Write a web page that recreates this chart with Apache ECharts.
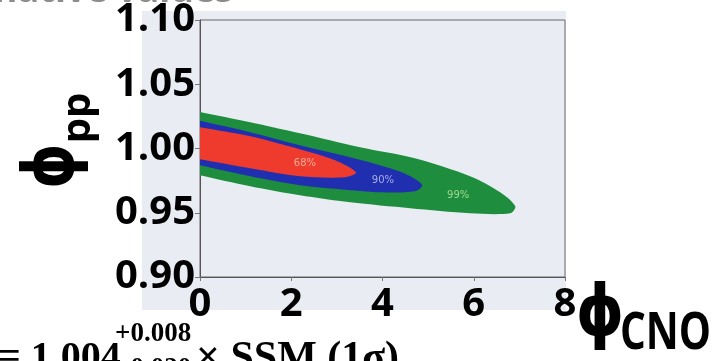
<!DOCTYPE html>
<html>
<head>
<meta charset="utf-8">
<script src="https://cdn.jsdelivr.net/npm/echarts@6/dist/echarts.min.js"></script>
<style>
html,body{margin:0;padding:0;background:#fff;}
#c{width:724px;height:361px;}
</style>
</head>
<body>
<div id="c"></div>
<script>
// ---- data ----
const xTickLabels = ['0', '2', '4', '6', '8'];
const yTickLabels = ['0.90', '0.95', '1.00', '1.05', '1.10'];

// contour boundaries [phi_CNO, phi_pp], traced clockwise; the regions are cut by the phi_CNO = 0 axis
const contour99 = [
  [-0.6, 1.0330], [0, 1.0285], [1.10, 1.0205], [2.19, 1.0119], [3.51, 1.0010], [4.71, 0.9924],
  [5.92, 0.9784], [6.58, 0.9659], [6.91, 0.9550], [6.80, 0.9496], [5.92, 0.9496],
  [4.61, 0.9535], [3.29, 0.9581], [2.19, 0.9636], [1.10, 0.9706], [0, 0.9792], [-0.6, 0.9840]
];
const contour90 = [
  [-0.6, 1.0265], [0, 1.0215], [1.10, 1.0127], [2.19, 1.0026], [3.29, 0.9932], [4.17, 0.9846],
  [4.61, 0.9784], [4.87, 0.9714], [4.71, 0.9667], [3.95, 0.9659], [3.07, 0.9683],
  [2.19, 0.9714], [1.10, 0.9784], [0, 0.9870], [-0.6, 0.9915]
];
const contour68 = [
  [-0.6, 1.0205], [0, 1.0166], [1.10, 1.0096], [2.19, 0.9995], [2.96, 0.9909], [3.42, 0.9815],
  [3.18, 0.9776], [2.19, 0.9784], [1.10, 0.9846], [0, 0.9917], [-0.6, 0.9950]
];
const levelNames = ['68%', '90%', '99%'];
const levelLabelPos = [[2.30, 0.9885], [4.01, 0.9753], [5.66, 0.9636]];

// ---- chart ----
const chart = echarts.init(document.getElementById('c'));

function polySeries(points, color) {
  return {
    type: 'custom',
    coordinateSystem: 'cartesian2d',
    data: points,
    silent: true,
    clip: true,
    encode: { x: 0, y: 1 },
    renderItem: function (params, api) {
      if (params.dataIndex !== 0) return null;
      return {
        type: 'polygon',
        shape: { points: points.map(p => api.coord(p)), smooth: 0.3 },
        style: { fill: color }
      };
    }
  };
}

const labelColors = ['#f7c9ac', '#cacaf0', '#bde8a4'];

const tickFont = { fontFamily: 'Open Sans', fontWeight: 'bold', fontSize: 40, color: '#000' };

chart.setOption({
  animation: false,
  backgroundColor: '#ffffff',
  grid: { left: 200, top: 20, right: 159, bottom: 84, show: true, borderColor: '#666', borderWidth: 1, backgroundColor: 'transparent' },
  xAxis: {
    type: 'value', min: 0, max: 8, interval: 2,
    axisLine: { show: true, lineStyle: { color: '#555', width: 1 } },
    axisTick: { show: true, length: 4, lineStyle: { color: '#777' } },
    splitLine: { show: false },
    axisLabel: Object.assign({ margin: 8, showMinLabel: true, showMaxLabel: true,
      formatter: (v, i) => xTickLabels[i] }, tickFont)
  },
  yAxis: {
    type: 'value', min: 0.9, max: 1.1, interval: 0.05,
    axisLine: { show: true, lineStyle: { color: '#555', width: 1 } },
    axisTick: { show: true, length: 5, lineStyle: { color: '#777' } },
    splitLine: { show: false },
    axisLabel: Object.assign({ margin: 5, showMinLabel: true, showMaxLabel: true,
      formatter: (v, i) => yTickLabels[i] }, tickFont)
  },
  series: [
    polySeries(contour99, '#1e8e3e'),
    polySeries(contour90, '#1f2fb0'),
    polySeries(contour68, '#ee3b2e'),
    {
      type: 'scatter', symbolSize: 0, silent: true,
      data: levelLabelPos.map((p, i) => ({
        value: p,
        label: { show: true, position: 'inside', formatter: levelNames[i], color: labelColors[i], fontSize: 10, fontFamily: 'DejaVu Sans' }
      }))
    }
  ],
  graphic: [
    { type: 'rect', z: -10, silent: true, shape: { x: 142, y: 11, width: 424, height: 299 }, style: { fill: '#e9edf3' } },
    { type: 'text', x: 233, y: -8, silent: true, style: { text: 'Alternative values', font: 'bold 36px "Open Sans"', fill: '#8c8c8c', align: 'right', verticalAlign: 'middle' } },
    // y axis title
    { type: 'text', x: 54, y: 166, rotation: Math.PI / 2, scaleX: 0.8, silent: true, style: { text: '\u03D5', font: 'bold 72px "DejaVu Sans"', fill: '#000', align: 'center', verticalAlign: 'middle' } },
    { type: 'text', x: 79, y: 118, rotation: Math.PI / 2, silent: true, style: { text: 'pp', font: 'bold 40px "Open Sans"', fill: '#000', align: 'center', verticalAlign: 'middle' } },
    // x axis title
    { type: 'text', x: 600, y: 316, scaleX: 0.85, silent: true, style: { text: '\u03D5', font: 'bold 72px "DejaVu Sans"', fill: '#000', align: 'center', verticalAlign: 'middle' } },
    { type: 'text', x: 620, y: 334, scaleX: 0.78, silent: true, style: { text: 'CNO', font: 'bold 52px "Open Sans"', fill: '#000', align: 'left', verticalAlign: 'middle' } },
    // formula
    { type: 'text', x: -2, y: 359, silent: true, style: { text: '= 1.004', font: 'bold 40px "Liberation Serif"', fill: '#000', align: 'left', verticalAlign: 'middle' } },
    { type: 'text', x: 115, y: 334, silent: true, style: { text: '+0.008', font: 'bold 27px "Liberation Serif"', fill: '#000', align: 'left', verticalAlign: 'middle' } },
    { type: 'text', x: 115, y: 369, silent: true, style: { text: '\u22120.020', font: 'bold 27px "Liberation Serif"', fill: '#000', align: 'left', verticalAlign: 'middle' } },
    { type: 'text', x: 196, y: 359, silent: true, style: { text: '\u00D7 SSM (1\u03C3)', font: 'bold 42px "Liberation Serif"', fill: '#000', align: 'left', verticalAlign: 'middle' } }
  ]
});
</script>
</body>
</html>
